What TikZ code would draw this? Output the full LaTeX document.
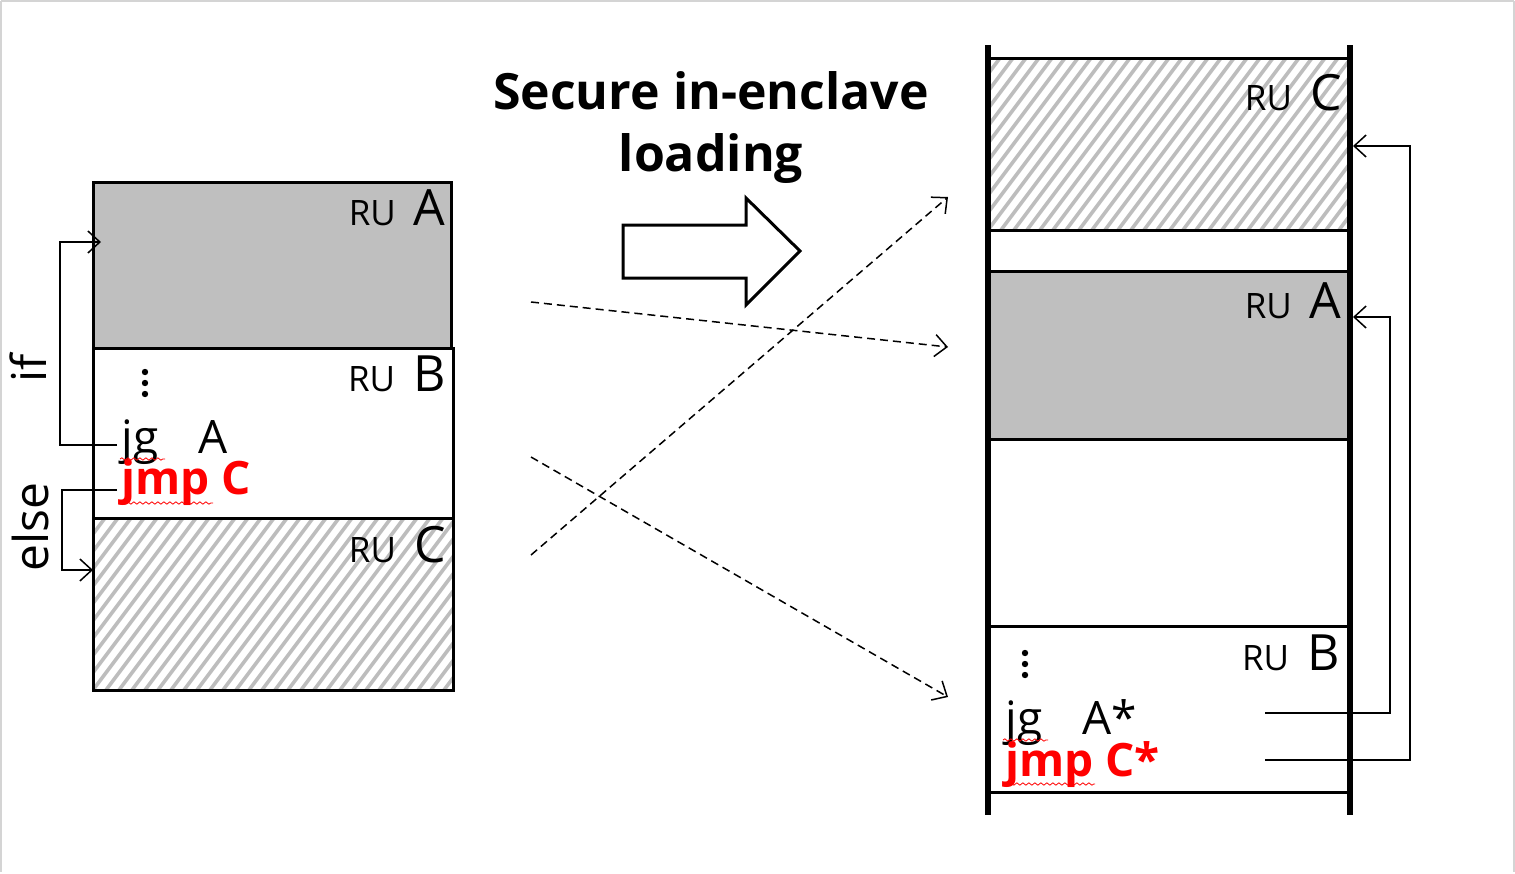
\documentclass[tikz,border=0pt]{standalone}
\usepackage{fontspec}
\setmainfont{Open Sans}
\usetikzlibrary{arrows.meta,decorations.pathmorphing}
\definecolor{boxgray}{HTML}{BFBFBF}
\definecolor{hatchgray}{HTML}{BDBDBD}
\definecolor{framegray}{HTML}{D4D4D4}
\newcommand\rulab[1]{{\fontsize{17.5}{20}\selectfont RU}\hspace{9pt}{\fontsize{25}{28}\selectfont #1}}
\newcommand\hatchbox[4]{%
  \begin{scope}
    \clip (#1,#2) rectangle (#3,#4);
    \foreach \k in {-20,...,45}{
      \draw[hatchgray,line width=1.8pt] ({#1+\k*13},#4) -- ({#1+\k*13+0.75*(#4-#2)},#2);
    }
  \end{scope}}
\begin{document}
\begin{tikzpicture}[x=0.5pt,y=-0.5pt,
  boxline/.style={line width=1.5pt},
  rail/.style={line width=3pt},
  rulabel/.style={anchor=base east,inner sep=0pt},
  codetxt/.style={anchor=base west,inner sep=0pt,font=\fontsize{23}{26}\selectfont},
  redcode/.style={anchor=base west,inner sep=0pt,text=red,font=\bfseries\fontsize{23}{26}\selectfont},
  flow/.style={line width=0.75pt,-{Straight Barb[length=6pt,width=11pt]}},
  dasharrow/.style={line width=0.75pt,dash pattern=on 4pt off 2.5pt,-{Straight Barb[length=6pt,width=11pt]}},
  squig/.style={red,line width=0.4pt,decorate,decoration={snake,segment length=3pt,amplitude=0.6pt}},
  sidelabel/.style={rotate=90,inner sep=0pt,font=\fontsize{24}{26}\selectfont},
  title/.style={align=center,inner sep=0pt,font=\bfseries\fontsize{25}{31}\selectfont}
]
\useasboundingbox (0,0) rectangle (1515,873);
\draw[framegray,line width=0.6pt] (1,1) -- (1514,1);
\draw[framegray,line width=0.6pt] (1,1) -- (1,872);
\draw[framegray,line width=0.6pt] (1514,1) -- (1514,872);

% ---------- left column ----------
\fill[boxgray] (93,182) rectangle (451,348);
\hatchbox{93}{518}{453}{690}
\draw[boxline] (93,182) rectangle (451,348);
\draw[boxline] (93,348) rectangle (453,518);
\draw[boxline] (93,518) rectangle (453,690);

\node[rulabel] (lA) at (446,225) {\rulab{A}};
\node[rulabel] (lB) at (446,391) {\rulab{B}};
\node[rulabel] (lC) at (446,562) {\rulab{C}};

\foreach \yy in {372,383,394} \fill (145,\yy) circle (1.6pt);
\node[codetxt] (ljg) at (121,453) {jg\hspace{20pt}A};
\node[redcode] (ljmp) at (121,494) {jmp C};
\draw[squig] (120,459) -- (165,459);
\draw[squig] (120,503) -- (213,503);

\coordinate (ifs) at (117,445);
\coordinate (ift) at (101,242);
\coordinate (els) at (117,490);
\coordinate (elt) at (93,570);
\draw[flow] (ifs) -- (60,445) -- (60,242) -- (ift);
\draw[flow] (els) -- (62,490) -- (62,570) -- (elt);
\node[sidelabel] (iflab) at (28,368) {if};
\node[sidelabel] (elselab) at (30,527) {else};

% ---------- title and big arrow ----------
\node[title] (ttl) at (711,128) {Secure in-enclave\\loading};
\draw[line width=1.5pt,fill=white] (623,225) -- (746,225) -- (746,198) -- (800,251)
  -- (746,305) -- (746,278) -- (623,278) -- cycle;

% ---------- dashed mapping arrows ----------
\coordinate (d1s) at (531,302); \coordinate (d1t) at (948,347);
\coordinate (d2s) at (531,555); \coordinate (d2t) at (948,197);
\coordinate (d3s) at (531,457); \coordinate (d3t) at (948,697);
\draw[dasharrow] (d1s) -- (d1t);
\draw[dasharrow] (d2s) -- (d2t);
\draw[dasharrow] (d3s) -- (d3t);

% ---------- right column ----------
\hatchbox{988}{58}{1350}{230}
\fill[boxgray] (988,271) rectangle (1350,439);
\foreach \yy in {58,230,271,439,626,792} \draw[boxline] (988,\yy) -- (1350,\yy);
\draw[rail] (988,45) -- (988,815);
\draw[rail] (1350,45) -- (1350,815);

\node[rulabel] (rC) at (1342,110) {\rulab{C}};
\node[rulabel] (rA) at (1342,318) {\rulab{A}};
\node[rulabel] (rB) at (1340,670) {\rulab{B}};

\foreach \yy in {653,664,675} \fill (1025,\yy) circle (1.6pt);
\node[codetxt] (rjg) at (1005,734) {jg\hspace{20pt}A*};
\node[redcode] (rjmp) at (1005,776) {jmp C*};
\draw[squig] (1003,740) -- (1048,740);
\draw[squig] (1003,784) -- (1095,784);

\coordinate (ra1) at (1265,713);
\coordinate (ra2) at (1353,317);
\coordinate (rc1) at (1265,760);
\coordinate (rc2) at (1353,146);
\draw[flow] (ra1) -- (1390,713) -- (1390,317) -- (ra2);
\draw[flow] (rc1) -- (1410,760) -- (1410,146) -- (rc2);
\end{tikzpicture}
\end{document}
